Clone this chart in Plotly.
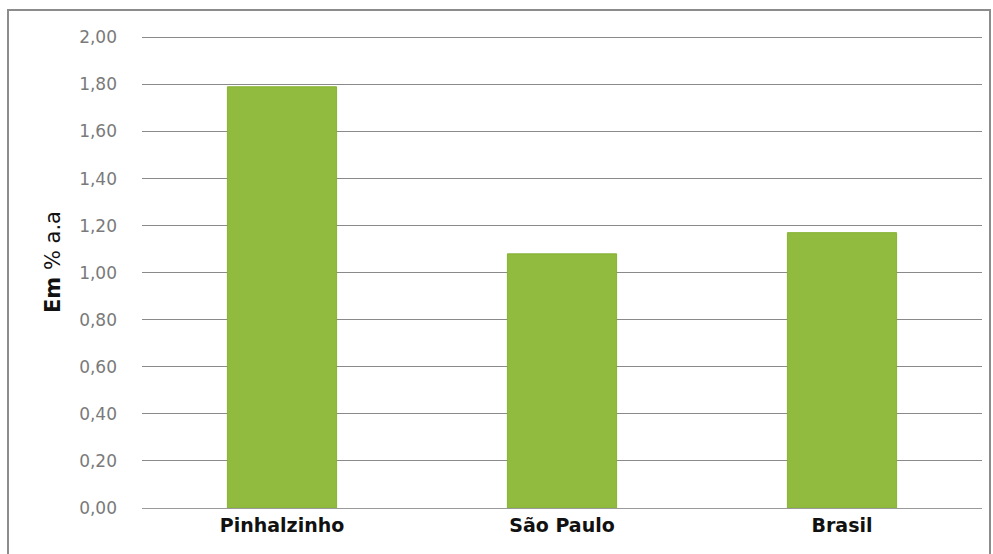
import plotly.graph_objects as go

categories = ["Pinhalzinho", "São Paulo", "Brasil"]
values = [1.79, 1.08, 1.17]
y_ticks = [0.0, 0.2, 0.4, 0.6, 0.8, 1.0, 1.2, 1.4, 1.6, 1.8, 2.0]
y_title = "<b>Em</b> % a.a"

fig = go.Figure()
fig.add_trace(go.Bar(
    x=categories, y=values,
    marker=dict(color="#90bb3e", line=dict(color="#86b233", width=1)),
    width=0.39,
))

W, H = 993, 554
l, r, t, b = 142, 11, 35, 46
pw, ph = W - l - r, H - t - b

fig.update_layout(
    width=W, height=H,
    margin=dict(l=l, r=r, t=t, b=b),
    paper_bgcolor="white", plot_bgcolor="white",
    separators=",.",
    showlegend=False,
    bargap=0.61,
    xaxis=dict(
        showgrid=False, showline=False, zeroline=False,
        tickfont=dict(family="DejaVu Sans", size=19, color="#111111", weight="bold"),
        ticks="", ticklabelstandoff=4,
    ),
    yaxis=dict(
        range=[0, 2.01], tickvals=y_ticks, tickformat=".2f",
        showgrid=True, gridcolor="#8a8a8a", gridwidth=1,
        zeroline=True, zerolinecolor="#9a9a9a", zerolinewidth=1,
        showline=False,
        tickfont=dict(family="DejaVu Sans", size=17, color="#7a7a7a"),
        ticks="", ticklabelstandoff=24,
    ),
)

fig.add_annotation(
    text=y_title, textangle=-90, showarrow=False,
    xref="paper", yref="paper", x=(53 - l) / pw, y=(H - b - 262) / ph,
    xanchor="center", yanchor="middle",
    font=dict(family="DejaVu Sans", size=21, color="#111111"),
)

# outer chart frame
fig.add_shape(
    type="rect", xref="paper", yref="paper",
    x0=(8 - l) / pw, x1=(990 - l) / pw,
    y0=(H - b - 560) / ph, y1=(H - b - 10) / ph,
    line=dict(color="#8c8c8c", width=2), fillcolor="rgba(0,0,0,0)", layer="below",
)

fig.write_html("out.html")
